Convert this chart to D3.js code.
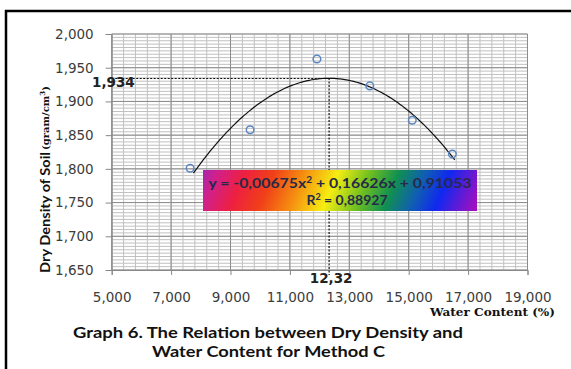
<!DOCTYPE html>
<html>
<head>
<meta charset="utf-8">
<script src="https://cdn.jsdelivr.net/npm/d3@7"></script>
<style>
  body { margin: 0; background: #fff; }
  svg { display: block; }
</style>
</head>
<body>
<svg id="chart" width="571" height="369"></svg>
<script>
// Data
const waterContent = [7.64, 9.66, 11.91, 13.69, 15.12, 16.47];
const dryDensity = [1.801, 1.858, 1.963, 1.923, 1.872, 1.822];

// polynomial trendline y = a x^2 + b x + c (from the label)
const trendCoef = [-0.00675, 0.16626, 0.91053];
const trendRange = [7.75, 16.55];
const peak = [12.32, 1.934];

const xTicks = [5, 7, 9, 11, 13, 15, 17, 19];
const yTicks = [1.65, 1.70, 1.75, 1.80, 1.85, 1.90, 1.95, 2.00];

const svg = d3.select("#chart");

const x = d3.scaleLinear().domain([5, 19]).range([111.7, 527.5]);
const y = d3.scaleLinear().domain([1.65, 2.0]).range([270, 34]);

const fmt = d => d3.format(".3f")(d).replace(".", ",");

// frame
svg.append("path")
  .attr("d", "M6,369V11H571")
  .attr("fill", "none")
  .attr("stroke", "#000")
  .attr("stroke-width", 2.5);

// minor grid
const grid = svg.append("g");
grid.selectAll(".vmin")
  .data(d3.range(5, 19.001, 0.4))
  .enter().append("line")
  .attr("x1", d => x(d)).attr("x2", d => x(d))
  .attr("y1", y(1.65)).attr("y2", y(2.0))
  .attr("stroke", "#c0c0c0").attr("stroke-width", 1);
grid.selectAll(".hmin")
  .data(d3.range(1.65, 2.0001, 0.005))
  .enter().append("line")
  .attr("x1", x(5)).attr("x2", x(19))
  .attr("y1", d => y(d)).attr("y2", d => y(d))
  .attr("stroke", "#c0c0c0").attr("stroke-width", 1);

// major grid
grid.selectAll(".vmaj")
  .data(xTicks)
  .enter().append("line")
  .attr("x1", d => x(d)).attr("x2", d => x(d))
  .attr("y1", y(1.65)).attr("y2", y(2.0))
  .attr("stroke", "#8c8c8c").attr("stroke-width", 1);
grid.selectAll(".hmaj")
  .data(yTicks)
  .enter().append("line")
  .attr("x1", x(5)).attr("x2", x(19))
  .attr("y1", d => y(d)).attr("y2", d => y(d))
  .attr("stroke", "#8c8c8c").attr("stroke-width", 1);

// axes
const xAxis = svg.append("g")
  .attr("transform", "translate(0," + y(1.65) + ")")
  .call(d3.axisBottom(x).tickValues(xTicks).tickFormat(fmt).tickSize(5).tickPadding(17));
const yAxis = svg.append("g")
  .attr("transform", "translate(" + x(5) + ",0)")
  .call(d3.axisLeft(y).tickValues(yTicks).tickFormat(fmt).tickSize(6).tickPadding(12));

[xAxis, yAxis].forEach(a => {
  a.select(".domain").attr("stroke", "#888");
  a.selectAll(".tick line").attr("stroke", "#888");
  a.selectAll("text")
    .attr("fill", "#3c3c3c")
    .style("font-family", "DejaVu Sans")
    .style("font-size", "13.5px");
});

// dotted guides to the peak
svg.append("path")
  .attr("d", "M" + x(5) + "," + y(peak[1]) + "H" + x(peak[0]) + "V" + (y(1.65) + 5))
  .attr("fill", "none")
  .attr("stroke", "#111")
  .attr("stroke-width", 1.2)
  .attr("stroke-dasharray", "2,1.5");

// equation box (drawn over the guide)
const defs = svg.append("defs");
const grad = defs.append("linearGradient")
  .attr("id", "rainbow")
  .attr("gradientUnits", "userSpaceOnUse")
  .attr("x1", 203).attr("y1", 150)
  .attr("x2", 477).attr("y2", 263);
[
  [0, "#8a2cc0"], [0.07, "#d0208e"], [0.16, "#ee2040"], [0.25, "#f04018"],
  [0.34, "#f58a10"], [0.45, "#f6ee12"], [0.55, "#70c020"], [0.64, "#109050"],
  [0.72, "#1060b0"], [0.8, "#1028f0"], [0.92, "#a010c0"], [1, "#b010b0"]
].forEach(s => grad.append("stop").attr("offset", s[0]).attr("stop-color", s[1]));

svg.append("rect")
  .attr("x", 203).attr("y", 170)
  .attr("width", 274).attr("height", 41)
  .attr("fill", "url(#rainbow)");

const eq = svg.append("text")
  .attr("x", 340).attr("y", 188)
  .attr("text-anchor", "middle")
  .attr("fill", "#262a48")
  .style("font-family", "Lato")
  .style("font-weight", "bold")
  .style("font-size", "14px")
  .attr("textLength", 263)
  .attr("lengthAdjust", "spacingAndGlyphs");
eq.append("tspan").text("y = -0,00675x");
eq.append("tspan").attr("dy", -5).style("font-size", "9px").text("2");
eq.append("tspan").attr("dy", 5).text(" + 0,16626x + 0,91053");

const r2 = svg.append("text")
  .attr("x", 347).attr("y", 205)
  .attr("text-anchor", "middle")
  .attr("fill", "#262a48")
  .style("font-family", "Lato")
  .style("font-weight", "bold")
  .style("font-size", "14px");
r2.append("tspan").text("R");
r2.append("tspan").attr("dy", -5).style("font-size", "9px").text("2");
r2.append("tspan").attr("dy", 5).text(" = 0,88927");

// trendline
const curve = d3.range(trendRange[0], trendRange[1] + 1e-9, 0.05)
  .map(v => [v, trendCoef[0] * v * v + trendCoef[1] * v + trendCoef[2]]);
svg.append("path")
  .datum(curve)
  .attr("fill", "none")
  .attr("stroke", "#111")
  .attr("stroke-width", 1.2)
  .attr("d", d3.line().x(d => x(d[0])).y(d => y(d[1])));

// points
svg.selectAll(".pt")
  .data(waterContent.map((v, i) => [v, dryDensity[i]]))
  .enter().append("circle")
  .attr("cx", d => x(d[0]))
  .attr("cy", d => y(d[1]))
  .attr("r", 3.8)
  .attr("fill", "none")
  .attr("stroke", "#5b86c0")
  .attr("stroke-width", 1.5);

// peak labels
svg.append("text")
  .attr("x", 92).attr("y", y(peak[1]) + 8)
  .attr("fill", "#222")
  .style("font-family", "DejaVu Sans")
  .style("font-weight", "bold")
  .style("font-size", "13.5px")
  .text(peak[1].toFixed(3).replace(".", ","));
svg.append("text")
  .attr("x", x(peak[0]) + 2).attr("y", 283)
  .attr("text-anchor", "middle")
  .attr("fill", "#222")
  .style("font-family", "DejaVu Sans")
  .style("font-weight", "bold")
  .style("font-size", "13.5px")
  .text(peak[0].toFixed(2).replace(".", ","));

// axis titles
svg.append("text")
  .attr("transform", "translate(50,273) rotate(-90)")
  .attr("fill", "#111")
  .style("font-family", "Lato")
  .style("font-weight", "bold")
  .style("font-size", "14px")
  .attr("textLength", 121)
  .attr("lengthAdjust", "spacingAndGlyphs")
  .text("Dry Density of Soil");
const unit = svg.append("text")
  .attr("transform", "translate(49,150) rotate(-90)")
  .attr("fill", "#111")
  .style("font-family", "DejaVu Serif")
  .style("font-weight", "bold")
  .style("font-size", "10px");
unit.append("tspan").text("(gram/cm");
unit.append("tspan").attr("dy", -4).style("font-size", "7px").text("3");
unit.append("tspan").attr("dy", 4).text(")");

svg.append("text")
  .attr("x", 555).attr("y", 316)
  .attr("text-anchor", "end")
  .attr("fill", "#111")
  .style("font-family", "DejaVu Serif")
  .style("font-weight", "bold")
  .style("font-size", "10.5px")
  .attr("textLength", 125)
  .attr("lengthAdjust", "spacingAndGlyphs")
  .text("Water Content (%)");

// caption
svg.append("text")
  .attr("x", 73).attr("y", 338)
  .attr("fill", "#111")
  .style("font-family", "Lato")
  .style("font-weight", "bold")
  .style("font-size", "15px")
  .attr("textLength", 390)
  .attr("lengthAdjust", "spacingAndGlyphs")
  .text("Graph 6.  The Relation between Dry Density and");
svg.append("text")
  .attr("x", 152).attr("y", 357)
  .attr("fill", "#111")
  .style("font-family", "Lato")
  .style("font-weight", "bold")
  .style("font-size", "15px")
  .attr("textLength", 233)
  .attr("lengthAdjust", "spacingAndGlyphs")
  .text("Water Content for Method C");
</script>
</body>
</html>
